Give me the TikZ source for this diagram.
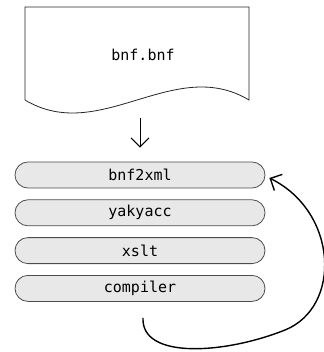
\documentclass[tikz,border=0pt]{standalone}
\usepackage{fontspec}
\setmonofont{DejaVu Sans Mono}
\usetikzlibrary{arrows.meta,positioning}

\begin{document}
\begin{tikzpicture}[x=1pt,y=-1pt,>={Straight Barb[length=9pt,width=18pt]},node distance=11pt,
  every node/.style={font=\ttfamily\fontsize{15}{18}\selectfont,align=center},
  pill/.style={draw=black!70,fill=black!9,line width=0.8pt,rounded corners=12.9pt,
    minimum width=250pt,minimum height=26pt,inner sep=0pt},
  loop/.style={->,line width=1.4pt}]
\useasboundingbox (0,0) rectangle (323,352);
% input file
\draw[line width=0.8pt,black!85] (25,100) -- (25,7) -- (249,7) -- (249,100)
  .. controls (174,55) and (100,145) .. (25,100);
\node (doc) at (143,55) {bnf.bnf};
\coordinate (docend) at (140,104);
% stages
\node[pill] (bnf2xml) at (140,175) {bnf2xml};
\node[pill,below=of bnf2xml] (yakyacc) {yakyacc};
\node[pill,below=of yakyacc] (xslt) {xslt};
\node[pill,below=of xslt] (compiler) {compiler};
\draw[->,line width=1pt,shorten <=14pt,shorten >=14pt] (docend)--(bnf2xml.north);
\draw[loop] ([xshift=3pt,yshift=-16pt]compiler.south) .. controls +(-2,42) and (225,354) .. (285,330)
  .. controls (342,307) and (338,212) .. ([xshift=4pt,yshift=-3pt]bnf2xml.east);
\end{tikzpicture}
\end{document}
